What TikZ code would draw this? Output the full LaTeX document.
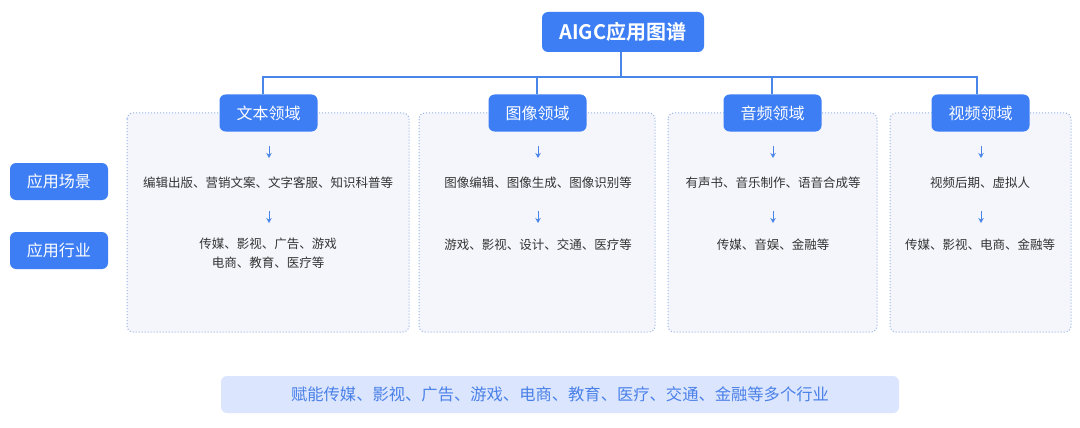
\documentclass[tikz,border=0pt]{standalone}
\usepackage{fontspec}
\setmainfont{Noto Sans CJK SC}
\newfontfamily\cjkb{Noto Sans CJK SC Bold}
\usetikzlibrary{arrows.meta}
\definecolor{mainblue}{HTML}{3D7EF5}
\definecolor{linkblue}{HTML}{4A85E8}
\definecolor{panelfill}{HTML}{F4F6FB}
\definecolor{paneldraw}{HTML}{96B3E8}
\definecolor{txtgray}{HTML}{333333}
\definecolor{bannerfill}{HTML}{DBE6FE}
\definecolor{bannertxt}{HTML}{4A80E8}
\tikzset{
  bluebox/.style={fill=mainblue, text=white, rounded corners=6pt, inner sep=0pt, font=\fontsize{16}{19}\selectfont},
  panelbox/.style={fill=panelfill, draw=paneldraw, dotted, line width=1pt, rounded corners=6pt},
  conn/.style={draw=linkblue, line width=1.1pt},
  smallarrow/.style={draw=linkblue, line width=1pt, -{Stealth[length=5pt,width=5.5pt]}},
  itemtxt/.style={text=txtgray, font=\fontsize{12.5}{19}\selectfont, align=center, inner sep=0pt}
}
\begin{document}
\begin{tikzpicture}[x=1pt,y=-1pt]
\useasboundingbox[fill=white] (0,0) rectangle (1080,428);
% panels
\path[panelbox] (127,113) rectangle (409,332);
\path[panelbox] (419,113) rectangle (655,332);
\path[panelbox] (668,113) rectangle (877,332);
\path[panelbox] (890,113) rectangle (1071,332);
% title
\node[bluebox, minimum width=162pt, minimum height=40pt, font=\cjkb\fontsize{20}{24}\selectfont] (title) at (623,32) {AIGC应用图谱};
% domain boxes
\node[bluebox, minimum width=98pt, minimum height=37pt] (d1) at (268.5,113) {文本领域};
\node[bluebox, minimum width=98pt, minimum height=37pt] (d2) at (537.5,113) {图像领域};
\node[bluebox, minimum width=98pt, minimum height=37pt] (d3) at (772.5,113) {音频领域};
\node[bluebox, minimum width=98pt, minimum height=37pt] (d4) at (980.5,113) {视频领域};
% left labels
\node[bluebox, minimum width=98pt, minimum height=37pt] (l1) at (59,181.5) {应用场景};
\node[bluebox, minimum width=98pt, minimum height=37pt] (l2) at (59,250.5) {应用行业};
% tree connectors
\coordinate (hub) at (621,77);
\draw[conn] (title.south -| hub) -- (hub);
\draw[conn] (d1.north -| 263,0) |- (hub) -| (d4.north -| 977,0);
\draw[conn] (d2.north -| 537,0) -- (537,77);
\draw[conn] (d3.north -| 772,0) -- (772,77);
% texts
\node[itemtxt] (s1) at (268,183) {编辑出版、营销文案、文字客服、知识科普等};
\node[itemtxt] (i1) at (268,253.5) {传媒、影视、广告、游戏\\电商、教育、医疗等};
\node[itemtxt] (s2) at (538,183) {图像编辑、图像生成、图像识别等};
\node[itemtxt] (i2) at (538,244.5) {游戏、影视、设计、交通、医疗等};
\node[itemtxt] (s3) at (773,183) {有声书、音乐制作、语音合成等};
\node[itemtxt] (i3) at (773,244.5) {传媒、音娱、金融等};
\node[itemtxt] (s4) at (980,183) {视频后期、虚拟人};
\node[itemtxt] (i4) at (980,244.5) {传媒、影视、电商、金融等};
% small arrows
\foreach \x/\n in {269/1,538/2,773/3,981/4}{
  \coordinate (a\n t) at (\x,146);
  \coordinate (a\n b) at (\x,158);
  \coordinate (b\n t) at (\x,211);
  \coordinate (b\n b) at (\x,223);
  \draw[smallarrow] (a\n t) -- (a\n b);
  \draw[smallarrow] (b\n t) -- (b\n b);
}
% banner
\node[fill=bannerfill, rounded corners=6pt, minimum width=678pt, minimum height=37pt, inner sep=0pt, text=bannertxt, font=\fontsize{16.3}{19}\selectfont] (banner) at (560,394.5) {赋能传媒、影视、广告、游戏、电商、教育、医疗、交通、金融等多个行业};
\end{tikzpicture}
\end{document}
